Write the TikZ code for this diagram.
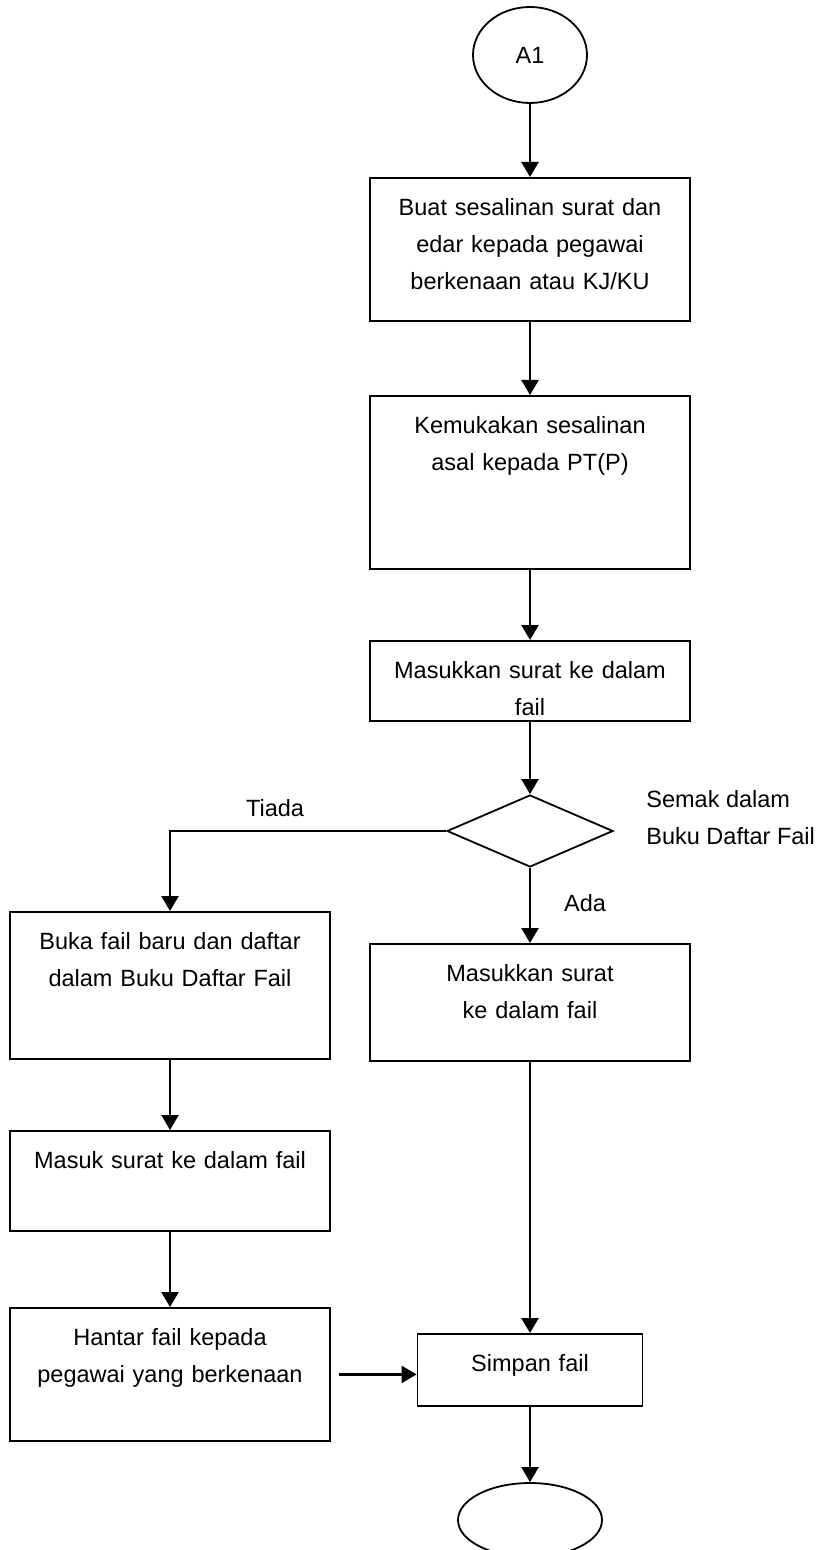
\documentclass[tikz,border=0pt]{standalone}
\usepackage{fontspec}
\setmainfont{Liberation Sans}
\usetikzlibrary{shapes,arrows.meta}

\begin{document}
\begin{tikzpicture}[x=0.5pt,y=-0.5pt,
  font=\fontsize{11.75}{18.5}\selectfont,
  box/.style={draw, line width=0.9pt, text width=150pt, align=center, anchor=north,
    inner xsep=5pt, inner ysep=0pt, text height=19pt},
  term/.style={ellipse, draw, line width=0.9pt, inner sep=0pt},
  lbl/.style={inner sep=0pt},
  arr/.style={line width=1.2pt, -{Triangle[length=7.5pt,width=8.5pt]}}]
\useasboundingbox (0,0) rectangle (819,1550);
\node[term, minimum width=57pt, minimum height=48pt] (a) at (530,55) {A1};
\node[box, text depth=52.5pt] (m1) at (530,177) {Buat sesalinan surat dan\\edar kepada pegawai\\berkenaan atau KJ/KU};
\node[box, text depth=67.5pt] (m2) at (530,395) {Kemukakan sesalinan\\asal kepada PT(P)};
\node[box, text depth=21pt] (m3) at (530,640) {Masukkan surat ke dalam\\fail};
\node[diamond, draw, line width=0.9pt, minimum width=83pt, minimum height=36pt, inner sep=0pt] (d) at (530,831) {};
\node[lbl, anchor=west, align=left] (q) at (646,818) {Semak dalam\\Buku Daftar Fail};
\node[lbl] (t) at (275,808) {Tiada};
\node[lbl] (y) at (585,903) {Ada};
\node[box, text depth=39.5pt] (r1) at (530,943) {Masukkan surat\\ke dalam fail};
\node[box, text depth=54.5pt] (l1) at (170,911) {Buka fail baru dan daftar\\dalam Buku Daftar Fail};
\node[box, text depth=31pt] (l2) at (170,1130) {Masuk surat ke dalam fail};
\node[box, text depth=47.5pt] (l3) at (170,1307) {Hantar fail kepada\\pegawai yang berkenaan};
\node[box, text width=102.5pt, text depth=17pt] (s) at (530,1333) {Simpan fail};
\node[term, minimum width=72pt, minimum height=37pt] (e) at (530,1520) {};
\draw[arr] (a) -- (m1);
\draw[arr] (m1) -- (m2);
\draw[arr] (m2) -- (m3);
\draw[arr] (m3) -- (d);
\draw[arr] (d.west) -- (d.west -| l1.north) -- (l1.north);
\draw[arr] (d) -- (r1);
\draw[arr] (l1) -- (l2);
\draw[arr] (l2) -- (l3);
\draw[arr, shorten <=4pt] (l3.east) -- (l3.east -| s.west);
\draw[arr] (r1) -- (s);
\draw[arr] (s) -- (e);
\end{tikzpicture}
\end{document}
